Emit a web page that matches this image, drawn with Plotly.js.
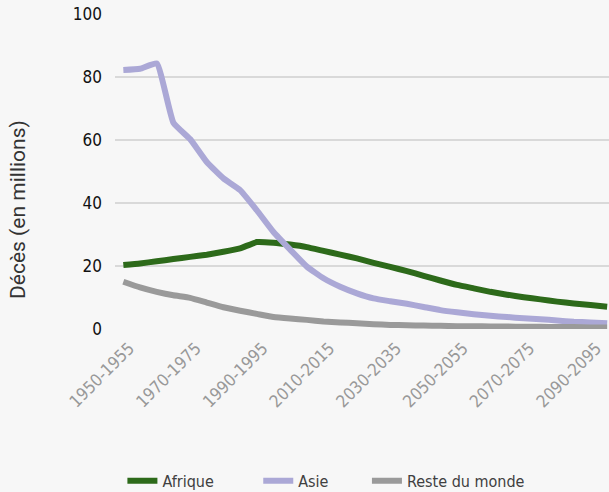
<!DOCTYPE html>
<html>
<head>
<meta charset="utf-8">
<script src="https://cdn.plot.ly/plotly-3.0.1.min.js"></script>
<style>
html,body{margin:0;padding:0;background:#f7f7f7;}
#chart{width:609px;height:492px;}
</style>
</head>
<body>
<div id="chart"></div>
<script>
const periods = ["1950-1955","1955-1960","1960-1965","1965-1970","1970-1975","1975-1980","1980-1985","1985-1990","1990-1995","1995-2000","2000-2005","2005-2010","2010-2015","2015-2020","2020-2025","2025-2030","2030-2035","2035-2040","2040-2045","2045-2050","2050-2055","2055-2060","2060-2065","2065-2070","2070-2075","2075-2080","2080-2085","2085-2090","2090-2095","2095-2100"];
const afrique = [20.3,20.8,21.5,22.2,22.9,23.6,24.5,25.6,27.6,27.4,26.8,26.0,24.8,23.6,22.4,21.0,19.7,18.4,16.9,15.4,14.0,12.9,11.8,10.9,10.1,9.4,8.7,8.1,7.6,7.1];
const asie = [82.2,82.6,84.3,65.5,60.3,53.0,47.8,44.1,37.7,30.8,25.2,19.8,16.1,13.4,11.3,9.7,8.8,8.0,7.0,6.0,5.3,4.7,4.2,3.8,3.4,3.1,2.7,2.3,2.1,1.8];
const resteMonde = [15.0,13.2,11.8,10.7,9.9,8.4,6.9,5.8,4.8,3.8,3.3,2.9,2.4,2.1,1.8,1.5,1.3,1.2,1.1,1.0,0.9,0.9,0.8,0.8,0.7,0.7,0.6,0.6,0.5,0.5];
const seriesNames = ["Afrique","Asie","Reste du monde"];
const tickIdx = [0,4,8,12,16,20,24,28];

const narrow = "'DejaVu Sans Condensed', 'DejaVu Sans', sans-serif";
function tr(name, y, color, leg){
  return {type:'scatter', mode:'lines', name:name, x:periods, y:y, legend:leg,
    line:{color:color, width:6, shape:'spline', smoothing:0.4}, hoverinfo:'skip'};
}
const data = [
  tr(seriesNames[0], afrique, '#2d6a1a', 'legend'),
  tr(seriesNames[1], asie, '#aba8d6', 'legend2'),
  tr(seriesNames[2], resteMonde, '#9a9a9a', 'legend3')
];
function leg(x){
  return {orientation:'h', x:x, xanchor:'left', y:-0.482, yanchor:'middle',
    font:{family:narrow, size:16, color:'#404040'}, bgcolor:'rgba(0,0,0,0)'};
}
const layout = {
  width:609, height:492,
  paper_bgcolor:'#f7f7f7', plot_bgcolor:'#f7f7f7',
  margin:{l:114.5, r:0, t:13.5, b:163, autoexpand:false},
  showlegend:true,
  legend:leg(0.015), legend2:leg(0.29), legend3:leg(0.51),
  xaxis:{type:'category', range:[-0.5, 29.11], showgrid:false, zeroline:false, showline:false,
    ticks:'', tickvals:tickIdx.map(i=>periods[i]), ticktext:tickIdx.map(i=>periods[i]),
    tickangle:-45, ticklabelstandoff:5, ticklabelshift:6,
    tickfont:{family:narrow, size:17, color:'#999999'}},
  yaxis:{range:[0,100], tickvals:[0,20,40,60,80,100], showgrid:true, gridcolor:'#d9d9d9', gridwidth:1.3,
    zeroline:false, showline:false, ticks:'', ticklabelstandoff:12,
    tickfont:{family:narrow, size:17, color:'#111111'}},
  annotations:[{text:'Décès (en millions)', xref:'paper', yref:'paper', x:-0.195, y:0.38,
    xanchor:'center', yanchor:'middle', textangle:-90, showarrow:false,
    font:{family:'Roboto, sans-serif', size:21, color:'#333333'}}]
};
Plotly.newPlot('chart', data, layout, {displayModeBar:false, staticPlot:true});
</script>
</body>
</html>
